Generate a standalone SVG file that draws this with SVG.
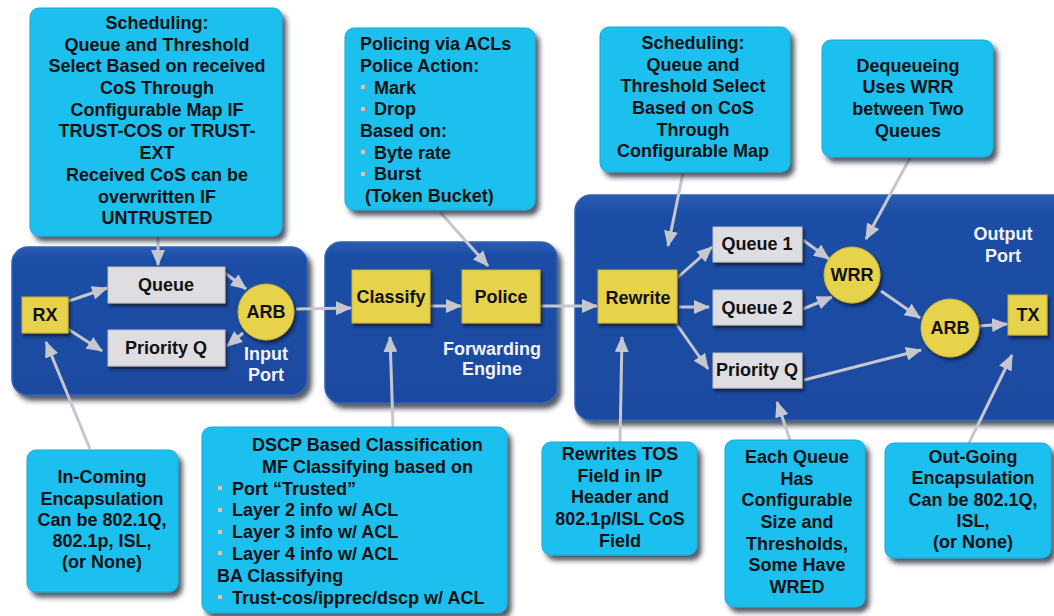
<svg xmlns="http://www.w3.org/2000/svg" width="1054" height="616" viewBox="0 0 1054 616">
<defs>
<style>
text{font-family:"Liberation Sans",Arial,sans-serif;font-weight:bold;font-size:18px;fill:#111}
.c{text-anchor:middle}
.w{fill:#f2f2f2;text-anchor:middle}
.callout{fill:#1fc0ee;stroke:#18a9d6;stroke-width:1}
.panel{fill:url(#pg);stroke:#2f62b6;stroke-width:1.5}
.yel{fill:#e6d24c;stroke:#c8b43a;stroke-width:1}
.gry{fill:#dedee2;stroke:#bfbfc6;stroke-width:1}
.conn{stroke:#c6c6ce;stroke-width:3;fill:none;marker-end:url(#ah)}
.bul{fill:#e8c2a0}
</style>
<linearGradient id="pg" x1="0" y1="0" x2="0" y2="1">
<stop offset="0" stop-color="#2a5cb2"/>
<stop offset="0.08" stop-color="#1c4ea6"/>
<stop offset="1" stop-color="#1a4aa0"/>
</linearGradient>
<filter id="sh" x="-10%" y="-10%" width="130%" height="130%">
<feDropShadow dx="4" dy="5" stdDeviation="2.5" flood-color="#1a2030" flood-opacity="0.75"/>
</filter>
<filter id="sh2" x="-20%" y="-20%" width="150%" height="150%">
<feDropShadow dx="2" dy="3" stdDeviation="1.5" flood-color="#0a1530" flood-opacity="0.8"/>
</filter>
<marker id="ah" markerUnits="userSpaceOnUse" markerWidth="16" markerHeight="14" refX="15" refY="7" orient="auto">
<path d="M0,0 L16,7 L0,14 z" fill="#c6c6ce"/>
</marker>
</defs>
<rect width="1054" height="616" fill="#ffffff"/>

<g id="panels">
<rect id="input-port" class="panel" x="12" y="247" width="295" height="148" rx="16" filter="url(#sh)"/>
<rect id="forwarding-engine" class="panel" x="325" y="242" width="232" height="161" rx="16" filter="url(#sh)"/>
<rect id="output-port" class="panel" x="575" y="195" width="500" height="225" rx="16" filter="url(#sh)"/>
<text class="w" x="266" y="360">Input</text>
<text class="w" x="266" y="381">Port</text>
<text class="w" x="492" y="355">Forwarding</text>
<text class="w" x="492" y="375">Engine</text>
<text class="w" x="1003" y="240">Output</text>
<text class="w" x="1003" y="262">Port</text>
</g>

<g id="connectors">
<line class="conn" x1="158" y1="237" x2="158" y2="265"/>
<line class="conn" x1="440" y1="212" x2="488" y2="266"/>
<line class="conn" x1="683" y1="173" x2="668" y2="246"/>
<line class="conn" x1="910" y1="158" x2="866" y2="239"/>
<line class="conn" x1="66" y1="302" x2="107" y2="288"/>
<line class="conn" x1="68" y1="329" x2="102" y2="351"/>
<line class="conn" x1="225" y1="273" x2="246" y2="289"/>
<line class="conn" x1="243" y1="333" x2="227" y2="346"/>
<line class="conn" x1="296" y1="309" x2="351" y2="308"/>
<line class="conn" x1="430" y1="306" x2="461" y2="306"/>
<line class="conn" x1="540" y1="306" x2="597" y2="306"/>
<line class="conn" x1="677" y1="278" x2="712" y2="247"/>
<line class="conn" x1="679" y1="307" x2="709" y2="307"/>
<line class="conn" x1="675" y1="322" x2="708" y2="369"/>
<line class="conn" x1="803" y1="240" x2="829" y2="259"/>
<line class="conn" x1="803" y1="309" x2="832" y2="297"/>
<line class="conn" x1="881" y1="291" x2="920" y2="318"/>
<line class="conn" x1="804" y1="380" x2="921" y2="350"/>
<line class="conn" x1="979" y1="326" x2="1007" y2="324"/>
<line class="conn" x1="620" y1="442" x2="622" y2="337"/>
<line class="conn" x1="790" y1="440" x2="777" y2="402"/>
<line class="conn" x1="968" y1="445" x2="1012" y2="355"/>
<line class="conn" x1="90" y1="449" x2="46" y2="342"/>
<line class="conn" x1="393" y1="427" x2="390" y2="337"/>
</g>

<g id="rx"><rect class="yel" x="22" y="297" width="46" height="36" filter="url(#sh2)"/><text class="c" x="45" y="321">RX</text></g>
<g id="queue"><rect class="gry" x="108" y="267" width="117" height="36" filter="url(#sh2)"/><text class="c" x="166" y="291">Queue</text></g>
<g id="priority-q-in"><rect class="gry" x="108" y="330" width="117" height="36" filter="url(#sh2)"/><text class="c" x="166" y="354">Priority Q</text></g>
<g id="arb-in"><circle class="yel" cx="266" cy="312" r="28" filter="url(#sh2)"/><text class="c" x="266" y="318">ARB</text></g>

<g id="classify"><rect class="yel" x="352" y="270" width="78" height="53" filter="url(#sh2)"/><text class="c" x="391" y="303">Classify</text></g>
<g id="police"><rect class="yel" x="462" y="270" width="78" height="53" filter="url(#sh2)"/><text class="c" x="501" y="303">Police</text></g>

<g id="rewrite"><rect class="yel" x="598" y="270" width="79" height="53" filter="url(#sh2)"/><text class="c" x="638" y="304">Rewrite</text></g>
<g id="queue1"><rect class="gry" x="713" y="227" width="89" height="35" filter="url(#sh2)"/><text class="c" x="757" y="250">Queue 1</text></g>
<g id="queue2"><rect class="gry" x="713" y="290" width="89" height="35" filter="url(#sh2)"/><text class="c" x="757" y="314">Queue 2</text></g>
<g id="priority-q-out"><rect class="gry" x="713" y="353" width="89" height="35" filter="url(#sh2)"/><text class="c" x="757" y="376">Priority Q</text></g>
<g id="wrr"><circle class="yel" cx="852" cy="275" r="28" filter="url(#sh2)"/><text class="c" x="852" y="281">WRR</text></g>
<g id="arb-out"><circle class="yel" cx="950" cy="328" r="29" filter="url(#sh2)"/><text class="c" x="950" y="334">ARB</text></g>
<g id="tx"><rect class="yel" x="1008" y="295" width="39" height="40" filter="url(#sh2)"/><text class="c" x="1028" y="321">TX</text></g>

<g id="callout-scheduling-in">
<rect class="callout" x="30" y="8" width="252" height="228" rx="9" filter="url(#sh)"/>
<text class="c" x="157" y="29">Scheduling:</text>
<text class="c" x="157" y="51">Queue and Threshold</text>
<text class="c" x="157" y="72">Select Based on received</text>
<text class="c" x="157" y="94">CoS Through</text>
<text class="c" x="157" y="116">Configurable Map IF</text>
<text class="c" x="157" y="137">TRUST-COS or TRUST-</text>
<text class="c" x="157" y="159">EXT</text>
<text class="c" x="157" y="181">Received CoS can be</text>
<text class="c" x="157" y="203">overwritten IF</text>
<text class="c" x="157" y="224">UNTRUSTED</text>
</g>

<g id="callout-policing">
<rect class="callout" x="345" y="28" width="190" height="182" rx="9" filter="url(#sh)"/>
<text x="360" y="50">Policing via ACLs</text>
<text x="360" y="72">Police Action:</text>
<rect class="bul" x="361" y="85" width="4" height="4"/><text x="374" y="94">Mark</text>
<rect class="bul" x="361" y="107" width="4" height="4"/><text x="374" y="115">Drop</text>
<text x="360" y="137">Based on:</text>
<rect class="bul" x="361" y="150" width="4" height="4"/><text x="374" y="159">Byte rate</text>
<rect class="bul" x="361" y="172" width="4" height="4"/><text x="374" y="180">Burst</text>
<text x="365" y="202">(Token Bucket)</text>
</g>

<g id="callout-scheduling-out">
<rect class="callout" x="600" y="27" width="190" height="145" rx="9" filter="url(#sh)"/>
<text class="c" x="693" y="49">Scheduling:</text>
<text class="c" x="693" y="71">Queue and</text>
<text class="c" x="693" y="92">Threshold Select</text>
<text class="c" x="693" y="114">Based on CoS</text>
<text class="c" x="693" y="136">Through</text>
<text class="c" x="693" y="157">Configurable Map</text>
</g>

<g id="callout-dequeueing">
<rect class="callout" x="822" y="40" width="171" height="117" rx="9" filter="url(#sh)"/>
<text class="c" x="908" y="72">Dequeueing</text>
<text class="c" x="908" y="93">Uses WRR</text>
<text class="c" x="908" y="115">between Two</text>
<text class="c" x="908" y="137">Queues</text>
</g>

<g id="callout-incoming">
<rect class="callout" x="27" y="450" width="151" height="142" rx="9" filter="url(#sh)"/>
<text class="c" x="102" y="483">In-Coming</text>
<text class="c" x="102" y="505">Encapsulation</text>
<text class="c" x="102" y="526">Can be 802.1Q,</text>
<text class="c" x="102" y="547">802.1p, ISL,</text>
<text class="c" x="102" y="568">(or None)</text>
</g>

<g id="callout-dscp">
<rect class="callout" x="202" y="427" width="305" height="186" rx="9" filter="url(#sh)"/>
<text x="252" y="451">DSCP Based Classification</text>
<text x="262" y="473">MF Classifying based on</text>
<rect class="bul" x="218" y="486" width="4" height="4"/><text x="232" y="495">Port “Trusted”</text>
<rect class="bul" x="218" y="508" width="4" height="4"/><text x="232" y="516">Layer 2 info w/ ACL</text>
<rect class="bul" x="218" y="530" width="4" height="4"/><text x="232" y="538">Layer 3 info w/ ACL</text>
<rect class="bul" x="218" y="551" width="4" height="4"/><text x="232" y="560">Layer 4 info w/ ACL</text>
<text x="217" y="582">BA Classifying</text>
<rect class="bul" x="218" y="595" width="4" height="4"/><text x="232" y="604">Trust-cos/ipprec/dscp w/ ACL</text>
</g>

<g id="callout-rewrites">
<rect class="callout" x="542" y="442" width="155" height="113" rx="9" filter="url(#sh)"/>
<text class="c" x="620" y="460">Rewrites TOS</text>
<text class="c" x="620" y="482">Field in IP</text>
<text class="c" x="620" y="503">Header and</text>
<text class="c" x="620" y="525">802.1p/ISL CoS</text>
<text class="c" x="620" y="547">Field</text>
</g>

<g id="callout-each-queue">
<rect class="callout" x="725" y="440" width="140" height="167" rx="9" filter="url(#sh)"/>
<text class="c" x="797" y="463">Each Queue</text>
<text class="c" x="797" y="485">Has</text>
<text class="c" x="797" y="506">Configurable</text>
<text class="c" x="797" y="528">Size and</text>
<text class="c" x="797" y="550">Thresholds,</text>
<text class="c" x="797" y="571">Some Have</text>
<text class="c" x="797" y="593">WRED</text>
</g>

<g id="callout-outgoing">
<rect class="callout" x="885" y="443" width="166" height="115" rx="9" filter="url(#sh)"/>
<text class="c" x="973" y="463">Out-Going</text>
<text class="c" x="973" y="484">Encapsulation</text>
<text class="c" x="973" y="506">Can be 802.1Q,</text>
<text class="c" x="973" y="527">ISL,</text>
<text class="c" x="973" y="548">(or None)</text>
</g>
</svg>
